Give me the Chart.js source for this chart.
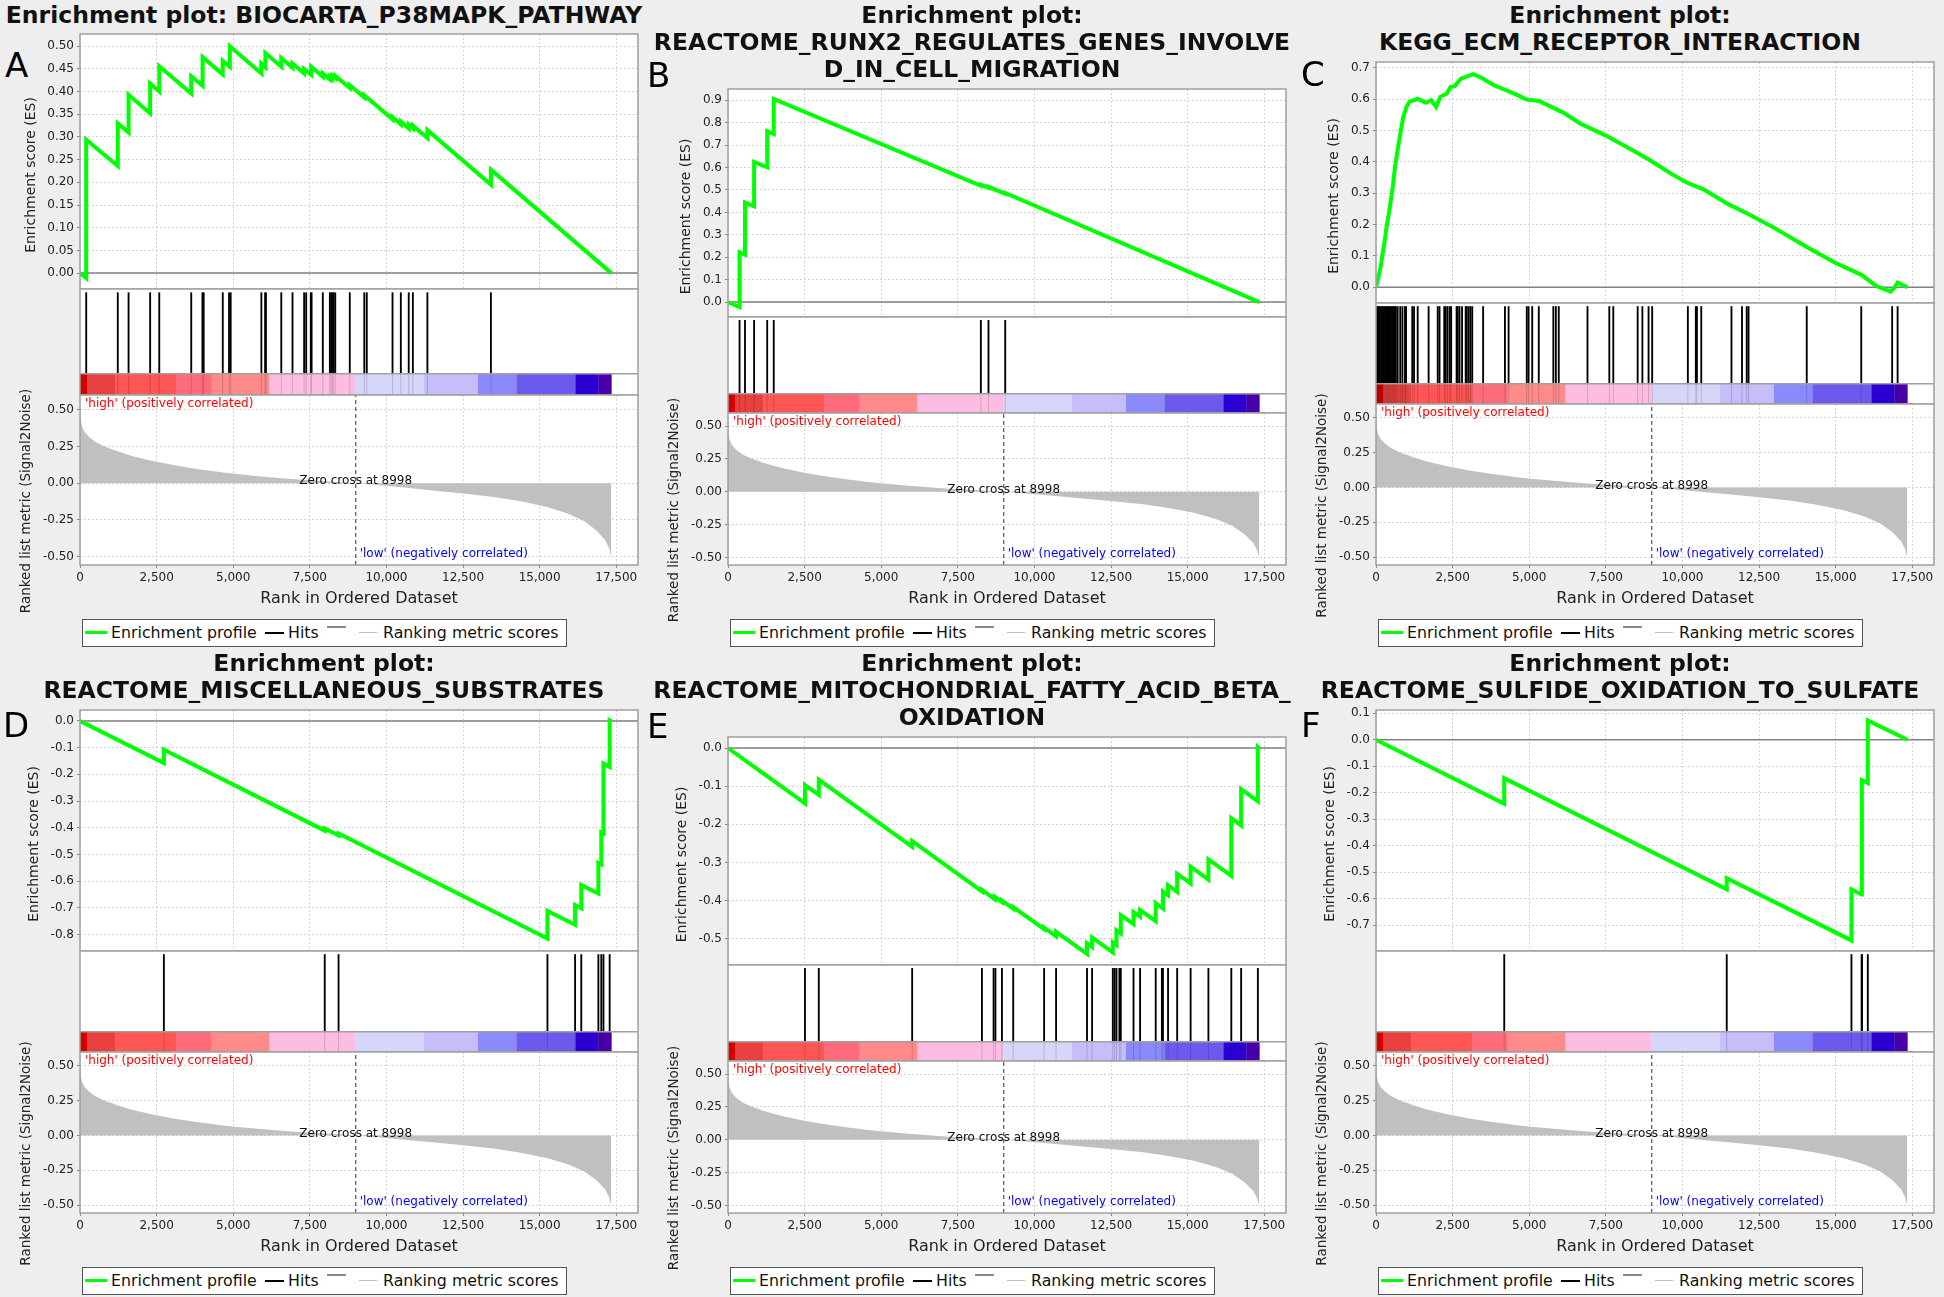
<!DOCTYPE html>
<html>
<head>
<meta charset="utf-8">
<script src="https://cdn.jsdelivr.net/npm/chart.js@4.4.1/dist/chart.umd.min.js"></script>
<style>
  body { margin: 0; background: #eeeeee; font-family: "DejaVu Sans", sans-serif; }
  #fig { position: relative; width: 1944px; height: 1297px; overflow: hidden; }
  .panel { position: absolute; width: 648px; height: 649px; }
  .title { position: absolute; left: 0; top: 2px; width: 648px; text-align: center; font-weight: bold;
           font-size: 23.5px; line-height: 27px; white-space: nowrap; color: #111; }
  .letter { position: absolute; font-size: 34px; line-height: 34px; color: #000; }
  canvas { position: absolute; left: 0; }
  .lgbox { position: absolute; left: 82px; top: 619px; width: 485px; height: 28px; box-sizing: border-box;
           border: 1px solid #555; background: #fff; }
  .lgtxt { position: absolute; top: 619px; line-height: 27px; font-size: 15.8px; color: #111; white-space: nowrap; }
  .lgline { position: absolute; }
</style>
</head>
<body>
<div id="fig"></div>
<script>
'use strict';

// Data

const panelLetters = ['A', 'B', 'C', 'D', 'E', 'F'];
const panelTitles = [
  ['Enrichment plot: BIOCARTA_P38MAPK_PATHWAY'],
  ['Enrichment plot:', 'REACTOME_RUNX2_REGULATES_GENES_INVOLVE', 'D_IN_CELL_MIGRATION'],
  ['Enrichment plot:', 'KEGG_ECM_RECEPTOR_INTERACTION'],
  ['Enrichment plot:', 'REACTOME_MISCELLANEOUS_SUBSTRATES'],
  ['Enrichment plot:', 'REACTOME_MITOCHONDRIAL_FATTY_ACID_BETA_', 'OXIDATION'],
  ['Enrichment plot:', 'REACTOME_SULFIDE_OXIDATION_TO_SULFATE']
];

const listSize = 17340;
const rankAxisMax = 18210;
const rankTicks = [0, 2500, 5000, 7500, 10000, 12500, 15000, 17500];
const zeroCross = 8998;

// enrichment profiles (rank, ES)
const esRankA = [0, 203, 203, 1233, 1233, 1585, 1585, 2289, 2289, 2587, 2587, 3630, 3630, 4000, 4000, 4659, 4659, 4890, 4890, 5919, 5919, 6050, 6050, 6569, 6569, 6935, 6935, 7314, 7314, 7545, 7545, 7924, 7924, 8154, 8154, 8236, 8236, 8330, 8330, 8804, 8804, 9278, 9278, 10199, 10199, 10470, 10470, 10728, 10728, 10863, 10863, 11337, 11337, 13410, 13410, 17340];
const esScoreA = [0, -0.011, 0.294, 0.236, 0.330, 0.310, 0.393, 0.352, 0.418, 0.400, 0.456, 0.396, 0.434, 0.413, 0.476, 0.438, 0.468, 0.455, 0.500, 0.440, 0.462, 0.454, 0.485, 0.455, 0.474, 0.453, 0.462, 0.440, 0.450, 0.437, 0.455, 0.433, 0.440, 0.427, 0.433, 0.428, 0.435, 0.430, 0.435, 0.408, 0.414, 0.387, 0.392, 0.339, 0.344, 0.328, 0.334, 0.319, 0.327, 0.319, 0.325, 0.298, 0.315, 0.195, 0.228, 0.0];

const esRankB = [0, 377, 377, 555, 555, 852, 852, 1279, 1279, 1493, 1493, 8252, 8252, 8501, 8501, 9047, 9047, 17340];
const esScoreB = [0, -0.022, 0.222, 0.212, 0.444, 0.427, 0.625, 0.601, 0.762, 0.750, 0.906, 0.519, 0.524, 0.510, 0.514, 0.483, 0.487, 0.0];

const esRankC = [0, 84, 152, 219, 286, 353, 420, 487, 554, 621, 688, 756, 823, 890, 997, 1091, 1360, 1628, 1803, 1964, 2098, 2300, 2434, 2568, 2769, 3172, 3440, 3843, 4245, 4514, 4916, 5319, 5722, 6124, 6661, 7467, 8272, 8943, 9614, 10151, 10688, 11493, 12164, 12970, 14044, 14983, 15855, 16324, 16794, 16928, 17022, 17340];
const esScoreC = [0, 0.034, 0.066, 0.108, 0.150, 0.198, 0.235, 0.278, 0.326, 0.384, 0.426, 0.469, 0.506, 0.543, 0.575, 0.591, 0.601, 0.588, 0.596, 0.575, 0.607, 0.617, 0.638, 0.641, 0.665, 0.679, 0.668, 0.644, 0.628, 0.617, 0.598, 0.594, 0.575, 0.556, 0.522, 0.485, 0.442, 0.405, 0.363, 0.333, 0.312, 0.265, 0.233, 0.191, 0.129, 0.078, 0.039, 0.004, -0.014, 0.0, 0.015, 0.0];

const esRankD = [0, 2737, 2737, 7987, 7987, 8438, 8438, 15255, 15255, 16157, 16157, 16359, 16359, 16917, 16917, 17012, 17012, 17083, 17083, 17285, 17285, 17340];
const esScoreD = [0, -0.158, -0.108, -0.411, -0.403, -0.429, -0.422, -0.815, -0.712, -0.764, -0.690, -0.702, -0.615, -0.647, -0.532, -0.537, -0.418, -0.422, -0.160, -0.172, 0.003, 0.0];

const esRankE = [0, 2512, 2512, 2963, 2963, 6010, 6010, 8287, 8287, 8700, 8700, 8940, 8940, 9308, 9308, 10316, 10316, 10707, 10707, 11716, 11716, 11882, 11882, 12558, 12558, 12677, 12677, 12819, 12819, 13234, 13234, 13448, 13448, 13958, 13958, 14195, 14195, 14361, 14361, 14658, 14658, 15097, 15097, 15678, 15678, 16425, 16425, 16746, 16746, 17292, 17292, 17340];
const esScoreE = [0, -0.145, -0.097, -0.123, -0.083, -0.259, -0.244, -0.376, -0.372, -0.396, -0.390, -0.404, -0.400, -0.421, -0.417, -0.475, -0.471, -0.494, -0.482, -0.540, -0.512, -0.522, -0.497, -0.536, -0.510, -0.517, -0.478, -0.486, -0.438, -0.462, -0.430, -0.442, -0.425, -0.454, -0.407, -0.421, -0.376, -0.386, -0.360, -0.377, -0.330, -0.355, -0.311, -0.345, -0.292, -0.335, -0.184, -0.203, -0.108, -0.140, 0.003, 0.0];

const esRankF = [0, 4185, 4185, 11446, 11446, 15516, 15516, 15848, 15848, 15860, 15860, 16050, 16050, 17340];
const esScoreF = [0, -0.241, -0.145, -0.564, -0.522, -0.757, -0.565, -0.584, -0.370, -0.371, -0.152, -0.163, 0.073, 0.0];

// hit positions (rank of each gene set member)
const hitsA = [203, 1233, 1585, 2289, 2587, 3630, 3996, 4036, 4659, 4863, 4917, 5919, 6041, 6068, 6569, 6935, 7314, 7382, 7531, 7558, 7924, 8154, 8195, 8236, 8276, 8330, 8804, 9278, 9359, 10199, 10470, 10728, 10863, 11337, 13410];
const hitsB = [377, 555, 852, 1279, 1493, 8252, 8501, 9047];
const hitsC = [32, 60, 95, 130, 175, 210, 250, 290, 330, 370, 410, 450, 490, 530, 570, 610, 649, 708, 791, 863, 946, 981, 1183, 1242, 1361, 1717, 2014, 2073, 2227, 2274, 2334, 2405, 2452, 2630, 2666, 2725, 2808, 2927, 2962, 3022, 3081, 3141, 3496, 4208, 4327, 4920, 4979, 5098, 5312, 5787, 5869, 5964, 6902, 7614, 7744, 8539, 8693, 8895, 9013, 10177, 10437, 10473, 10615, 11600, 11944, 12098, 12158, 14057, 15836, 16844, 17022];
const hitsD = [2737, 7987, 8438, 15255, 16157, 16359, 16917, 17012, 17083, 17285];
const hitsE = [2512, 2963, 6010, 8287, 8667, 8727, 8940, 9308, 10316, 10707, 11716, 11882, 12558, 12617, 12677, 12772, 12819, 13234, 13448, 13958, 14159, 14195, 14361, 14658, 15097, 15678, 16425, 16746, 17292];
const hitsF = [4185, 11446, 15516, 15848, 15860, 16050];

// ES axis ranges and tick steps
const esAxisMin = [-0.035, -0.0666, -0.05, -0.862, -0.569, -0.797];
const esAxisMax = [0.527, 0.9506, 0.718, 0.041, 0.029, 0.1125];
const esTickStep = [0.05, 0.1, 0.1, 0.1, 0.1, 0.1];
const esTickDecimals = [2, 1, 1, 1, 1, 1];

// ranked list metric (same list for every panel)
const metricRank = [0, 20, 60, 135, 271, 474, 745, 1151, 1693, 2370, 3048, 3860, 4808, 5892, 7111, 8195, 8998, 9549, 10497, 11581, 12665, 13613, 14425, 15238, 15915, 16457, 16864, 17135, 17270, 17320, 17340];
const metricValue = [0.52, 0.44, 0.39, 0.354, 0.32, 0.285, 0.255, 0.222, 0.185, 0.15, 0.123, 0.095, 0.069, 0.046, 0.025, 0.012, 0.0, -0.009, -0.028, -0.051, -0.074, -0.097, -0.125, -0.162, -0.206, -0.259, -0.324, -0.387, -0.444, -0.49, -0.53];
const metricAxisMin = -0.557;
const metricAxisMax = 0.60;

// heat bar under the hits
const colorBarEdges = [0, 243, 1146, 3129, 4293, 6181, 8972, 11229, 12987, 14246, 16170, 16918, 17340];
const colorBarColors = ['#d50000', '#e8403e', '#fe5555', '#fe6b7a', '#fe8a8a', '#fdbde2', '#d6d6fb', '#c5befb', '#8a8afb', '#6c5aed', '#2b00d3', '#4a00a8'];

const esRanks = [esRankA, esRankB, esRankC, esRankD, esRankE, esRankF];
const esScores = [esScoreA, esScoreB, esScoreC, esScoreD, esScoreE, esScoreF];
const allHits = [hitsA, hitsB, hitsC, hitsD, hitsE, hitsF];

// Layout

const PANEL_W = 648;
const FRAME_L = 80;
const FRAME_R = 638;
const PLOT_BOTTOM = 565;
const PAD = 3;
const plotTopByLines = [0, 34, 62, 89];
const letterPos = [[5, 48], [-1, 58], [5, 57], [3, 60], [-1, 61], [5, 60]];
const FRAME_COLOR = '#a0a0a0';
const GRID_COLOR = '#d4d4d4';
const TICK_FONT = {size: 12};

Chart.defaults.font.family = '"DejaVu Sans", sans-serif';
Chart.defaults.color = '#222';

// Plugins

const framePlugin = {
  id: 'frame',
  beforeDraw(chart) {
    const {ctx, chartArea: a} = chart;
    ctx.save();
    ctx.fillStyle = '#ffffff';
    ctx.fillRect(a.left, a.top, a.width, a.height);
    ctx.restore();
  },
  afterDraw(chart) {
    const {ctx, chartArea: a} = chart;
    ctx.save();
    ctx.strokeStyle = FRAME_COLOR;
    ctx.lineWidth = 1.5;
    ctx.strokeRect(a.left, a.top, a.width, a.height);
    ctx.restore();
  }
};

// axis title placed next to the widest tick label
const sideTitlePlugin = {
  id: 'sideTitle',
  afterDraw(chart, args, opts) {
    const {ctx, chartArea: a} = chart;
    const yScale = chart.scales.y;
    ctx.save();
    ctx.font = '12px "DejaVu Sans"';
    let widest = 0;
    yScale.ticks.forEach(t => { widest = Math.max(widest, ctx.measureText(String(t.label)).width); });
    const x = a.left - 6 - widest - 16.4;
    ctx.font = opts.size + 'px "DejaVu Sans"';
    ctx.fillStyle = '#222';
    ctx.textAlign = 'center';
    ctx.textBaseline = 'middle';
    ctx.translate(x, (a.top + a.bottom) / 2 + opts.dy);
    ctx.rotate(-Math.PI / 2);
    ctx.fillText(opts.text, 0, 0);
    ctx.restore();
  }
};

const colorBarPlugin = {
  id: 'colorBar',
  afterDatasetsDraw(chart, args, opts) {
    const {ctx, chartArea: a, scales: {x, y}} = chart;
    const top = y.getPixelForValue(opts.height);
    const bottom = y.getPixelForValue(0);
    ctx.save();
    for (let k = 0; k < colorBarColors.length; k++) {
      const x1 = x.getPixelForValue(colorBarEdges[k]);
      const x2 = x.getPixelForValue(colorBarEdges[k + 1]);
      ctx.fillStyle = colorBarColors[k];
      ctx.fillRect(x1, top, x2 - x1 + 0.3, bottom - top);
    }
    // hits show faintly through the bar
    ctx.strokeStyle = 'rgba(0,0,0,0.16)';
    ctx.lineWidth = 1;
    opts.hits.forEach(h => {
      const px = x.getPixelForValue(h);
      ctx.beginPath();
      ctx.moveTo(px, top);
      ctx.lineTo(px, bottom);
      ctx.stroke();
    });
    ctx.strokeStyle = FRAME_COLOR;
    ctx.lineWidth = 1.5;
    ctx.beginPath();
    ctx.moveTo(a.left, top);
    ctx.lineTo(a.right, top);
    ctx.stroke();
    ctx.restore();
  }
};

const rankLabelsPlugin = {
  id: 'rankLabels',
  afterDatasetsDraw(chart) {
    const {ctx, chartArea: a, scales: {x, y}} = chart;
    const zx = x.getPixelForValue(zeroCross);
    ctx.save();
    ctx.font = '12px "DejaVu Sans"';
    ctx.textBaseline = 'middle';
    ctx.textAlign = 'left';
    ctx.fillStyle = '#ff0000';
    ctx.fillText("'high' (positively correlated)", a.left + 5, a.top + 9);
    ctx.fillStyle = '#0000ff';
    ctx.fillText("'low' (negatively correlated)", zx + 4, a.bottom - 11);
    ctx.fillStyle = '#111';
    ctx.textAlign = 'center';
    ctx.fillText('Zero cross at ' + zeroCross, zx, y.getPixelForValue(0) - 2);
    ctx.restore();
  }
};

// Helpers

function points(xs, ys) {
  return xs.map((v, k) => ({x: v, y: ys[k]}));
}

function makeCanvas(parent, top, height) {
  const c = document.createElement('canvas');
  c.width = PANEL_W;
  c.height = height;
  c.style.top = top + 'px';
  c.style.width = PANEL_W + 'px';
  c.style.height = height + 'px';
  parent.appendChild(c);
  return c;
}

function addDiv(parent, cls, css, text) {
  const d = document.createElement('div');
  d.className = cls;
  d.style.cssText = css;
  if (text) d.textContent = text;
  parent.appendChild(d);
  return d;
}

const baseOptions = {
  responsive: false,
  animation: false,
  events: [],
  plugins: {legend: {display: false}, tooltip: {enabled: false}}
};

function rankScale(showTicks) {
  return {
    type: 'linear',
    min: 0,
    max: rankAxisMax,
    ticks: {
      display: showTicks,
      autoSkip: false,
      maxRotation: 0,
      padding: 3,
      font: TICK_FONT,
      callback: v => v.toLocaleString('en-US')
    },
    afterBuildTicks: s => { s.ticks = rankTicks.map(v => ({value: v})); },
    grid: {color: GRID_COLOR, drawTicks: showTicks, tickLength: 3, tickColor: '#888'},
    border: {display: false, dash: [2, 2]},
    title: {display: showTicks, text: 'Rank in Ordered Dataset', font: {size: 16}, color: '#222', padding: {top: 0, bottom: 0}},
    afterFit: s => { s.height = showTicks ? 43 : 0; s.paddingLeft = 0; s.paddingRight = 0; }
  };
}

function valueScale(min, max, step, decimals) {
  return {
    min: min,
    max: max,
    ticks: {stepSize: step, includeBounds: false, autoSkip: false, padding: 3, font: TICK_FONT,
            callback: v => Number(v).toFixed(decimals)},
    grid: {color: GRID_COLOR, tickLength: 3, tickColor: '#888'},
    border: {display: false, dash: [2, 2]},
    afterFit: s => { s.width = FRAME_L; s.paddingTop = 0; s.paddingBottom = 0; }
  };
}

// Build a panel

function buildPanel(i) {
  const fig = document.getElementById('fig');
  const panel = document.createElement('div');
  panel.className = 'panel';
  panel.style.left = (i % 3) * PANEL_W + 'px';
  panel.style.top = Math.floor(i / 3) * 648 + 'px';
  fig.appendChild(panel);

  const title = addDiv(panel, 'title', '');
  panelTitles[i].forEach(line => addDiv(title, '', '', line));
  addDiv(panel, 'letter', `left:${letterPos[i][0]}px;top:${letterPos[i][1]}px`, panelLetters[i]);

  const top = plotTopByLines[panelTitles[i].length];
  const h = PLOT_BOTTOM - top;
  const esBottom = Math.round(top + 0.48 * h);
  const rankTop = Math.round(top + 0.68 * h);

  // enrichment score plot
  const esCanvas = makeCanvas(panel, top - PAD, esBottom - top + 2 * PAD);
  new Chart(esCanvas, {
    type: 'line',
    data: {
      datasets: [
        {data: [{x: 0, y: 0}, {x: rankAxisMax, y: 0}], borderColor: '#808080', borderWidth: 1.5, pointRadius: 0, order: 2},
        {label: 'Enrichment profile', data: points(esRanks[i], esScores[i]), borderColor: '#00ff00',
         borderWidth: 4, pointRadius: 0, order: 1}
      ]
    },
    options: Object.assign({}, baseOptions, {
      layout: {autoPadding: false, padding: {top: PAD, bottom: PAD, left: 0, right: PANEL_W - FRAME_R}},
      plugins: Object.assign({}, baseOptions.plugins,
        {sideTitle: {text: 'Enrichment score (ES)', size: 14, dy: 13.5}}),
      scales: {
        x: rankScale(false),
        y: valueScale(esAxisMin[i], esAxisMax[i], esTickStep[i], esTickDecimals[i])
      }
    }),
    plugins: [framePlugin, sideTitlePlugin]
  });

  // hits and heat bar
  const hitsCanvas = makeCanvas(panel, esBottom - PAD, rankTop - esBottom + 2 * PAD);
  new Chart(hitsCanvas, {
    type: 'bar',
    data: {
      datasets: [{label: 'Hits', data: allHits[i].map(r => ({x: r, y: [0.2, 0.965]})),
                  backgroundColor: '#000000', borderWidth: 0, barThickness: 1.2}]
    },
    options: Object.assign({}, baseOptions, {
      layout: {autoPadding: false, padding: {top: PAD, bottom: PAD, left: FRAME_L, right: PANEL_W - FRAME_R}},
      plugins: Object.assign({}, baseOptions.plugins, {colorBar: {height: 0.2, hits: allHits[i]}}),
      scales: {
        x: {type: 'linear', display: false, offset: false, min: 0, max: rankAxisMax},
        y: {display: false, min: 0, max: 1}
      }
    }),
    plugins: [framePlugin, colorBarPlugin]
  });

  // ranked list metric
  const topExtra = 30;
  const bottomExtra = 16;
  const rankCanvas = makeCanvas(panel, rankTop - topExtra, PLOT_BOTTOM - rankTop + 43 + topExtra + bottomExtra);
  new Chart(rankCanvas, {
    type: 'line',
    data: {
      datasets: [
        {label: 'Ranking metric scores', data: points(metricRank, metricValue), fill: 'origin',
         backgroundColor: '#c0c0c0', borderWidth: 0, pointRadius: 0, order: 2},
        {data: [{x: zeroCross, y: metricAxisMin}, {x: zeroCross, y: metricAxisMax}], borderColor: '#555555',
         borderDash: [4, 3], borderWidth: 1.2, pointRadius: 0, order: 1}
      ]
    },
    options: Object.assign({}, baseOptions, {
      layout: {autoPadding: false, padding: {top: topExtra, bottom: bottomExtra, left: 0, right: PANEL_W - FRAME_R}},
      plugins: Object.assign({}, baseOptions.plugins,
        {sideTitle: {text: 'Ranked list metric (Signal2Noise)', size: 13.5, dy: 21}}),
      scales: {
        x: rankScale(true),
        y: valueScale(metricAxisMin, metricAxisMax, 0.25, 2)
      }
    }),
    plugins: [framePlugin, rankLabelsPlugin, sideTitlePlugin]
  });

  // legend
  addDiv(panel, 'lgbox', '');
  addDiv(panel, 'lgline', 'left:85px;top:631px;width:22px;height:3px;background:#00ff00');
  addDiv(panel, 'lgtxt', 'left:111px', 'Enrichment profile');
  addDiv(panel, 'lgline', 'left:265px;top:632px;width:19px;height:1.5px;background:#000');
  addDiv(panel, 'lgtxt', 'left:288px', 'Hits');
  addDiv(panel, 'lgline', 'left:327px;top:626px;width:19px;height:2px;background:#8a8a8a');
  addDiv(panel, 'lgline', 'left:359px;top:632px;width:18px;height:1px;background:#c0c0c0');
  addDiv(panel, 'lgtxt', 'left:383px', 'Ranking metric scores');
}

for (let i = 0; i < 6; i++) {
  buildPanel(i);
}
</script>
</body>
</html>
